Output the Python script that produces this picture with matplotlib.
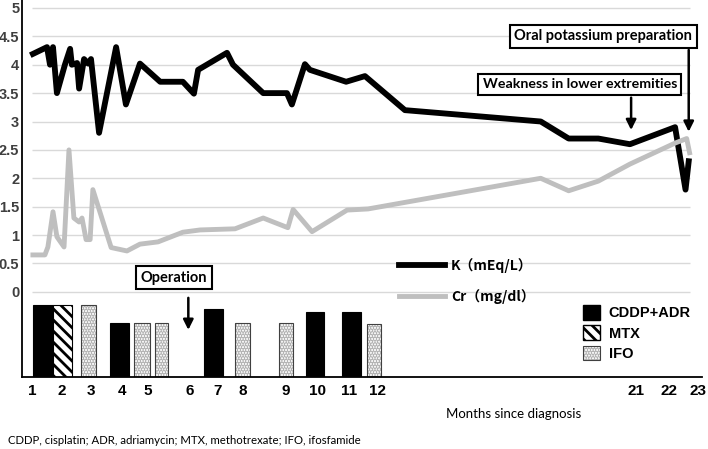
import numpy as np
import matplotlib
matplotlib.use('Agg')
import matplotlib.pyplot as plt
from matplotlib.patches import Patch
from matplotlib.legend_handler import HandlerTuple

# x axis: month labels and where they sit along the axis (axis position units)
month_ticks = [1, 2, 3, 4, 5, 6, 7, 8, 9, 10, 11, 12, 21, 22, 23]
tick_pos = [32, 62, 91, 122, 148, 190, 218, 243, 286, 317, 349, 377, 636, 669, 698]

# serum potassium (mEq/L)
k_months = [1.03, 1.5, 1.6, 1.7, 1.83, 2.10, 2.28, 2.34, 2.52, 2.59, 2.76, 2.90, 3.0,
            3.26, 3.81, 4.15, 4.69, 5.29, 5.83, 6.14, 6.29, 7.36, 7.6, 8.47, 9.03,
            9.19, 9.61, 9.77, 10.91, 11.57, 12.97, 17.69, 18.66, 19.69, 20.79,
            22.21, 22.57, 22.68]
k_values = [4.19, 4.31, 4.0, 4.31, 3.5, 4.0, 4.28, 4.0, 4.03, 3.58, 4.1, 4.02, 4.1,
            2.8, 4.31, 3.3, 4.02, 3.7, 3.7, 3.49, 3.91, 4.21, 4.0, 3.5, 3.5,
            3.3, 4.01, 3.91, 3.7, 3.8, 3.2, 3.0, 2.7, 2.7, 2.6,
            2.9, 1.8, 2.3]

# serum creatinine (mg/dl)
cr_months = [1.03, 1.43, 1.53, 1.7, 1.83, 2.07, 2.24, 2.41, 2.59, 2.69, 2.83, 2.97,
             3.06, 3.65, 4.19, 4.69, 5.24, 5.83, 6.36, 7.68, 8.47, 9.06, 9.23, 9.84,
             10.94, 11.68, 17.69, 18.66, 19.69, 20.79, 22.21, 22.61, 22.71]
cr_values = [0.65, 0.65, 0.79, 1.41, 0.97, 0.79, 2.5, 1.3, 1.23, 1.3, 0.92, 0.92,
             1.8, 0.78, 0.72, 0.84, 0.88, 1.05, 1.09, 1.11, 1.3, 1.13, 1.45, 1.06,
             1.44, 1.46, 2.0, 1.78, 1.95, 2.25, 2.62, 2.7, 2.45]

# chemotherapy courses (bars stand on the bottom of the axis)
bar_start = [1.03, 1.70, 2.66, 3.61, 4.46, 5.17, 6.50, 7.68, 8.84, 9.65, 10.78, 11.64]
bar_end = [1.70, 2.34, 3.16, 4.27, 5.05, 5.48, 7.20, 8.16, 9.23, 10.22, 11.43, 12.14]
bar_height = [1.27, 1.27, 1.27, 0.95, 0.95, 0.95, 1.20, 0.95, 0.95, 1.15, 1.15, 0.94]
bar_drug = ['CDDP+ADR', 'MTX', 'IFO', 'CDDP+ADR', 'IFO', 'IFO',
            'CDDP+ADR', 'IFO', 'IFO', 'CDDP+ADR', 'CDDP+ADR', 'IFO']

y_grid = np.arange(0, 5.01, 0.5)
Y_MIN, Y_MAX = -1.5, 5.14

plt.rcParams['font.family'] = ['Lato', 'DejaVu Sans']

anchor_m = [0] + month_ticks + [24]
anchor_p = [2] + tick_pos + [726]


def fwd(x):
    return np.interp(x, anchor_m, anchor_p)


def inv(p):
    return np.interp(p, anchor_p, anchor_m)


fig = plt.figure(figsize=(7.08, 4.49), dpi=100)
ax = fig.add_axes([22 / 708, 72 / 449, 680 / 708, 377 / 449])
ax.set_xscale('function', functions=(fwd, inv))
ax.set_xlim(inv(22), inv(702))
ax.set_ylim(Y_MIN, Y_MAX)

# light grid lines
ax.hlines(y_grid, 1, inv(690), colors='#d9d9d9', lw=1, zorder=0)

# chemo bars
hatch_mtx = '\\\\\\'
hatch_ifo = '......'
ifo_fill = '#b4b4b4'
plt.rcParams['hatch.linewidth'] = 2.0
for s, e, h, d in zip(bar_start, bar_end, bar_height, bar_drug):
    w = e - s
    if d == 'CDDP+ADR':
        ax.bar(s, h, w, bottom=Y_MIN, align='edge', color='black', edgecolor='black', lw=0.8, zorder=2)
    elif d == 'MTX':
        ax.bar(s, h, w, bottom=Y_MIN, align='edge', facecolor='white', edgecolor='black',
               hatch=hatch_mtx, lw=0.8, zorder=2)
    else:
        ax.bar(s, h, w, bottom=Y_MIN, align='edge', facecolor='white', edgecolor=ifo_fill,
               hatch=hatch_ifo, lw=0, zorder=2)
        ax.bar(s, h, w, bottom=Y_MIN, align='edge', fill=False, edgecolor='#404040', lw=0.8, zorder=2)

# lab values
k_line, = ax.plot(k_months, k_values, color='black', lw=4.2, solid_joinstyle='round', zorder=3)
cr_line, = ax.plot(cr_months, cr_values, color='#bfbfbf', lw=3.5, zorder=4)

# axes styling
for side in ['top', 'right']:
    ax.spines[side].set_visible(False)
for side in ['left', 'bottom']:
    ax.spines[side].set_linewidth(1.3)
    ax.spines[side].set_color('black')

ax.set_xticks(month_ticks)
ax.set_xticklabels([str(m) for m in month_ticks], family=['Liberation Sans Narrow', 'Liberation Sans'],
                   fontweight='bold', fontsize=11)
ax.set_yticks(y_grid)
ax.set_yticklabels([f'{v:g}' for v in y_grid], family=['Liberation Sans'], fontweight='bold',
                   fontsize=10.5, color='#3f3f3f')
ax.tick_params(axis='x', length=0, pad=5)
ax.tick_params(axis='y', length=0, pad=2)

# legends
leg1 = ax.legend([k_line, cr_line], ['K（mEq/L）', 'Cr（mg/dl）'], loc='center left',
                 bbox_to_anchor=(0.554, 0.2546), frameon=False, borderpad=0, borderaxespad=0,
                 handlelength=3.3, handletextpad=0.45, labelspacing=1.15,
                 prop={'family': ['Noto Sans CJK JP'], 'weight': 'bold', 'size': 10})
ax.add_artist(leg1)

h_cddp = Patch(facecolor='black', edgecolor='black')
h_mtx = Patch(facecolor='white', edgecolor='black', hatch=hatch_mtx)
h_ifo = (Patch(facecolor='white', edgecolor=ifo_fill, hatch=hatch_ifo, lw=0),
         Patch(fill=False, edgecolor='#404040', lw=0.8))
ax.legend([h_cddp, h_mtx, h_ifo], ['CDDP+ADR', 'MTX', 'IFO'], loc='center left',
          bbox_to_anchor=(0.825, 0.1167), frameon=False, borderpad=0, borderaxespad=0,
          handlelength=1.16, handleheight=1.16, handletextpad=0.6, labelspacing=0.34,
          handler_map={tuple: HandlerTuple(ndivide=1)},
          prop={'family': ['Liberation Sans'], 'weight': 'bold', 'size': 10.5})

# annotations
box = dict(boxstyle='square,pad=0.3', facecolor='white', edgecolor='black', lw=1.5)
arrow = dict(arrowstyle='-|>,head_width=0.3,head_length=0.6', color='black', lw=1.8,
             shrinkA=0, shrinkB=0, mutation_scale=10)

ax.text(5.62, 0.246, 'Operation', ha='center', va='center', fontweight='bold', fontsize=10.5,
        bbox=box, zorder=6)
ax.annotate('', xy=(5.96, -0.67), xytext=(5.96, -0.106), arrowprops=arrow, zorder=6)

ax.text(19.05, 3.653, 'Weakness in lower extremities', ha='center', va='center',
        fontweight='bold', fontsize=10.2, bbox=box, zorder=6)
ax.annotate('', xy=(20.83, 2.85), xytext=(20.83, 3.42), arrowprops=arrow, zorder=6)

ax.text(19.86, 4.498, 'Oral potassium preparation', ha='center', va='center',
        fontweight='bold', fontsize=10.5, bbox=box, zorder=6)
ax.annotate('', xy=(22.68, 2.82), xytext=(22.68, 4.26), arrowprops=arrow, zorder=6)

fig.text(514 / 708, 1 - 414 / 449, 'Months since diagnosis', ha='center', va='center', fontsize=9.5)
fig.text(8 / 708, 1 - 440 / 449, 'CDDP, cisplatin; ADR, adriamycin; MTX, methotrexate; IFO, ifosfamide',
         ha='left', va='center', fontsize=8.2)

fig.savefig('out.png', dpi=100)
